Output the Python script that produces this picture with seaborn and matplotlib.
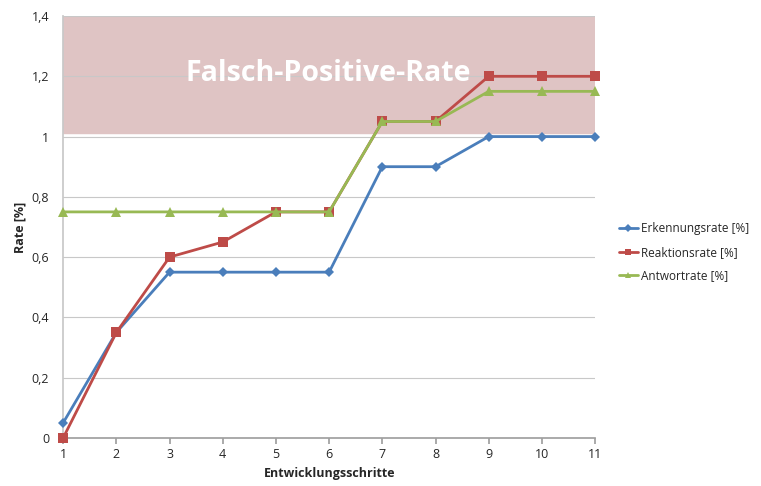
import numpy as np
import pandas as pd
import matplotlib
matplotlib.use('Agg')
import matplotlib.pyplot as plt
import seaborn as sns

steps = list(range(1, 12))
erkennung = [0.05, 0.35, 0.55, 0.55, 0.55, 0.55, 0.9, 0.9, 1.0, 1.0, 1.0]
reaktion = [0.0, 0.35, 0.6, 0.65, 0.75, 0.75, 1.05, 1.05, 1.2, 1.2, 1.2]
antwort = [0.75, 0.75, 0.75, 0.75, 0.75, 0.75, 1.05, 1.05, 1.15, 1.15, 1.15]
series_names = ['Erkennungsrate [%]', 'Reaktionsrate [%]', 'Antwortrate [%]']
yticks = [0, 0.2, 0.4, 0.6, 0.8, 1.0, 1.2, 1.4]

df = pd.DataFrame({
    'Schritt': steps * 3,
    'Rate': erkennung + reaktion + antwort,
    'Serie': np.repeat(series_names, len(steps)),
})

sns.set_theme(style='white')
plt.rcParams['font.family'] = ['Open Sans', 'DejaVu Sans']

fig = plt.figure(figsize=(7.61, 4.86), dpi=100)
ax = fig.add_axes([0.083, 0.099, 0.699, 0.868])

# shaded false-positive region
ax.axhspan(1.012, 1.4, color='#dfc4c4', zorder=0)
for y in yticks[1:]:
    ax.axhline(y, color='#c8c8c8', linewidth=0.8, zorder=0.5)

palette = {'Erkennungsrate [%]': '#4a7ebb',
           'Reaktionsrate [%]': '#be4b48',
           'Antwortrate [%]': '#98b954'}
markers = {'Erkennungsrate [%]': 'D',
           'Reaktionsrate [%]': 's',
           'Antwortrate [%]': '^'}
sizes = {'Erkennungsrate [%]': 5, 'Reaktionsrate [%]': 6.5, 'Antwortrate [%]': 6.5}

for name in series_names:
    sub = df[df['Serie'] == name]
    sns.lineplot(data=sub, x='Schritt', y='Rate', ax=ax, color=palette[name],
                 marker=markers[name], markersize=sizes[name], markeredgewidth=0,
                 linewidth=2, label=name, zorder=3, clip_on=False)

ax.text(5.98, 1.21, 'Falsch-Positive-Rate', color='white', fontsize=20.5,
        fontweight='bold', ha='center', va='center', zorder=2)

ax.set_xlim(1, 11)
ax.set_ylim(0, 1.4)
ax.set_xticks(steps)
ax.set_yticks(yticks)
ax.set_yticklabels([f'{v:g}'.replace('.', ',') for v in yticks], fontsize=9)
ax.tick_params(axis='x', labelsize=9, length=4, color='#a0a0a0', direction='out', bottom=True)
ax.tick_params(axis='y', length=0, pad=10)
ax.set_xlabel('Entwicklungsschritte', fontsize=9, fontweight='bold')
ax.set_ylabel('Rate [%]', fontsize=9, fontweight='bold')

for s in ['top', 'right']:
    ax.spines[s].set_visible(False)
ax.spines['bottom'].set_color('#a0a0a0')
ax.spines['left'].set_color('#c8c8c8')

leg = ax.legend(loc='center left', bbox_to_anchor=(1.025, 0.44), frameon=False,
                fontsize=8.5, handlelength=1.6, handletextpad=0.3,
                labelspacing=0.9, markerscale=0.75)

fig.savefig('out.png', dpi=100)
